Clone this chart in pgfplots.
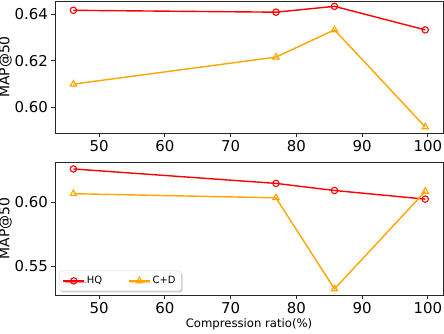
\documentclass[border=0pt]{standalone}
\usepackage{pgfplots}
\pgfplotsset{compat=1.18}
\usepackage{fontspec}
\setmainfont{DejaVu Sans}
\usetikzlibrary{shadows}
\definecolor{hqred}{HTML}{FF0000}
\definecolor{cdorange}{HTML}{FFA500}
\pgfplotsset{
  myaxis/.style={
    scale only axis,
    width=388bp,
    xmin=43.3, xmax=102.3,
    xtick={50,60,70,80,90,100},
    tick align=outside,
    xtick pos=bottom, ytick pos=left,
    major tick length=3.5bp,
    axis line style={black!85, line width=0.8bp},
    every tick/.style={black!85, line width=0.8bp},
    tick label style={font=\fontsize{15}{18}\selectfont},
    /pgf/number format/assume math mode=true,
    yticklabel style={/pgf/number format/fixed, /pgf/number format/fixed zerofill, /pgf/number format/precision=2},
    xlabel style={font=\fontsize{11.7}{14}\selectfont},
    ylabel style={font=\fontsize{14}{16}\selectfont},
    ylabel={MAP@50},
    ylabel shift=-4bp,
    legend cell align=left,
  },
  hq/.style={color=hqred, line width=1.4bp, mark=o, mark size=3.2bp, mark options={solid, line width=1.1bp}},
  cd/.style={color=cdorange, line width=1.4bp, mark=triangle, mark size=3.7bp, mark options={solid, line width=1.1bp}},
}
\begin{document}
\begin{tikzpicture}
\path[use as bounding box] (-55bp,-201bp) rectangle (389bp,133bp);
\begin{axis}[myaxis, at={(0,0)}, anchor=south west, height=132bp,
  ymin=0.589, ymax=0.6457, ytick={0.60,0.62,0.64}]
\addplot[hq] coordinates {(46.1,0.6417) (76.9,0.6409) (85.8,0.6434) (99.6,0.6333)};
\addplot[cd] coordinates {(46.1,0.6100) (76.9,0.6216) (85.8,0.6333) (99.6,0.5916)};
\end{axis}
\begin{axis}[myaxis, at={(0,-29bp)}, anchor=north west, height=133bp,
  ymin=0.5279, ymax=0.6311, ytick={0.55,0.60},
  xlabel={Compression ratio(\%)}, xlabel shift=-2bp,
  legend columns=2,
  legend style={at={(0.01,0.03)}, anchor=south west, font=\fontsize{10}{12}\selectfont,
    draw=black!15, rounded corners=2.5bp, drop shadow={shadow xshift=1.5bp, shadow yshift=-1.5bp, opacity=0.4},
    /tikz/every even column/.append style={column sep=24bp}, inner sep=3.5bp},
  legend image code/.code={\draw[#1, mark repeat=2, mark phase=2] plot coordinates {(0cm,0cm) (0.37cm,0cm) (0.74cm,0cm)};}]
\addplot[hq] coordinates {(46.1,0.6257) (76.9,0.6145) (85.8,0.6090) (99.6,0.6023)};
\addlegendentry{HQ}
\addplot[cd] coordinates {(46.1,0.6065) (76.9,0.6033) (85.8,0.5326) (99.6,0.6083)};
\addlegendentry{C+D}
\end{axis}
\end{tikzpicture}
\end{document}
